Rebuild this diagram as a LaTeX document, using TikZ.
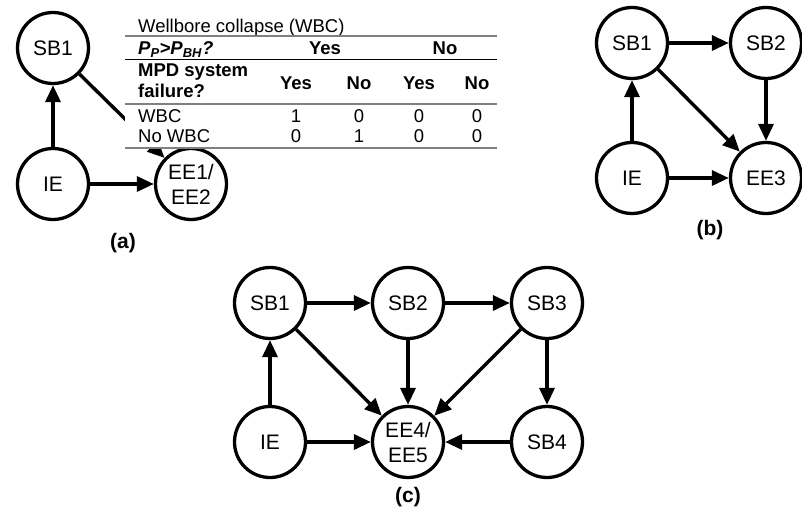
\documentclass[tikz,border=0pt]{standalone}
\usepackage{fontspec}
\setmainfont{Liberation Sans}
\usepackage{xcolor}
\definecolor{Col1}{RGB}{0,0,0}
\definecolor{Col2}{RGB}{128,128,128}
\usepackage{tikz}
\usetikzlibrary{arrows.meta}
\tikzstyle{Node}=[circle,draw=Col1,line width=3.3pt,inner sep=0pt,
minimum size=71pt,align=center,font=\fontsize{21}{25}\selectfont]
\tikzstyle{Edge}=[draw=Col1,line width=3.4pt,
-{Triangle[length=17pt,width=15pt]}]
\tikzstyle{Label}=[font=\fontsize{21}{25}\selectfont\bfseries]
\tikzstyle{Cell}=[inner sep=0pt,anchor=base,font=\fontsize{18.5}{21}\selectfont]
\tikzstyle{HeadCell}=[Cell,font=\fontsize{18.5}{21}\selectfont\bfseries]
\tikzstyle{Rule}=[draw=Col2,line width=1.3pt]

\begin{document}
\begin{tikzpicture}[x=1pt,y=-1pt]
    \useasboundingbox(0,0)rectangle(802,516);
    % (a)
        \node[Node](aSB1)at(53,48){SB1};
        \node[Node](aIE)at(53,184){IE};
        \node[Node](aEE)at(191,184){EE1/\\EE2};
        \draw[Edge](aIE)--(aSB1);
        \draw[Edge](aIE)--(aEE);
        \draw[Edge](aSB1)--(aEE);
        \node[Label](a)at(123,243){(a)};
    % CPT table, drawn over the SB1 edge
        \fill[white](125,14)rectangle(497,149);
        \node[Cell,anchor=base west](t0)at(138,33){Wellbore collapse (WBC)};
        \draw[Rule](125,36)--(497,36);
        \node[HeadCell,anchor=base west](t1)at(138,55)
            {\itshape P\textsubscript{P}>P\textsubscript{BH}?};
        \node[HeadCell](t2)at(325,55){Yes};
        \node[HeadCell](t3)at(445,55){No};
        \draw[Rule,draw=Col1,line width=1pt](125,60)--(497,60);
        \node[HeadCell,anchor=base west](t4)at(138,77){MPD system};
        \node[HeadCell,anchor=base west](t5)at(138,98){failure?};
        \node[HeadCell](t6)at(296,89.5){Yes};
        \node[HeadCell](t7)at(359,89.5){No};
        \node[HeadCell](t8)at(419,89.5){Yes};
        \node[HeadCell](t9)at(477,89.5){No};
        \draw[Rule](125,104)--(497,104);
        \node[Cell,anchor=base west](t10)at(138,122){WBC};
        \node[Cell](t11)at(296,122){1};
        \node[Cell](t12)at(359,122){0};
        \node[Cell](t13)at(419,122){0};
        \node[Cell](t14)at(477,122){0};
        \node[Cell,anchor=base west](t15)at(138,142){No WBC};
        \node[Cell](t16)at(296,142){0};
        \node[Cell](t17)at(359,142){1};
        \node[Cell](t18)at(419,142){0};
        \node[Cell](t19)at(477,142){0};
        \draw[Rule](125,148)--(497,148);
    % (b)
        \node[Node](bSB1)at(632,43){SB1};
        \node[Node](bSB2)at(766,43){SB2};
        \node[Node](bIE)at(632,178){IE};
        \node[Node](bEE)at(766,178){EE3};
        \draw[Edge](bIE)--(bSB1);
        \draw[Edge](bSB1)--(bSB2);
        \draw[Edge](bSB1)--(bEE);
        \draw[Edge](bSB2)--(bEE);
        \draw[Edge](bIE)--(bEE);
        \node[Label](b)at(710,230){(b)};
    % (c)
        \node[Node](cSB1)at(270,303){SB1};
        \node[Node](cSB2)at(408,303){SB2};
        \node[Node](cSB3)at(547,303){SB3};
        \node[Node](cIE)at(270,442){IE};
        \node[Node](cEE)at(408,442){EE4/\\EE5};
        \node[Node](cSB4)at(547,442){SB4};
        \draw[Edge](cIE)--(cSB1);
        \draw[Edge](cSB1)--(cSB2);
        \draw[Edge](cSB2)--(cSB3);
        \draw[Edge](cSB1)--(cEE);
        \draw[Edge](cSB2)--(cEE);
        \draw[Edge](cSB3)--(cEE);
        \draw[Edge](cSB3)--(cSB4);
        \draw[Edge](cSB4)--(cEE);
        \draw[Edge](cIE)--(cEE);
        \node[Label](c)at(408,497){(c)};
    \end{tikzpicture}
\end{document}
